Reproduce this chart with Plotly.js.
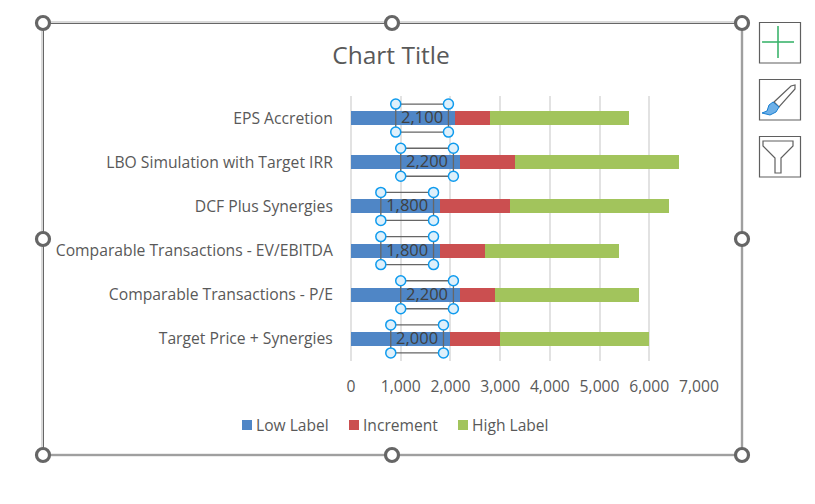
<!DOCTYPE html>
<html><head><meta charset="utf-8">
<script src="https://cdn.plot.ly/plotly-3.0.1.min.js"></script>
<style>html,body{margin:0;padding:0;background:#fff}</style></head>
<body><div id="chart" style="width:815px;height:504px"></div>
<script>
const categories = ["EPS Accretion","LBO Simulation with Target IRR","DCF Plus Synergies","Comparable Transactions - EV/EBITDA","Comparable Transactions - P/E","Target Price + Synergies"];
const lowLabel = [2100,2200,1800,1800,2200,2000];
const increment = [700,1100,1400,900,700,1000];
const highLabel = [2800,3300,3200,2700,2900,3000];
const tickValues = [0,1000,2000,3000,4000,5000,6000,7000];
const seriesNames = ["Low Label","Increment","High Label"];
const seriesColors = ["#4f86c6","#cb4f50","#a2c45c"];

const W=815,H=504,L=351,R=699,T=96,B=361;
const FONT='"Open Sans", sans-serif';
const positions = categories.map((_,i)=>i);
const fmt = v=>v.toLocaleString('en-US');

// selected data-label frames (offsets from the end of the low bar, in axis units)
const gapEnd=140, boxW=1060, boxH=0.317;
const fx=[],fy=[],hx=[],hy=[],lx=[];
lowLabel.forEach((v,i)=>{
  const r=v-gapEnd,l=r-boxW,t=i-boxH,b=i+boxH;
  fx.push(l,r,r,l,l,null); fy.push(t,t,b,b,t,null);
  hx.push(l,r,l,r); hy.push(t,t,b,b);
  lx.push((l+r)/2);
});

const bar=(name,x,color)=>({type:'bar',orientation:'h',name,x,y:positions,marker:{color,line:{width:0}},hoverinfo:'skip',showlegend:false});
const traces=[
  bar(seriesNames[0],lowLabel,seriesColors[0]),
  bar(seriesNames[1],increment,seriesColors[1]),
  bar(seriesNames[2],highLabel,seriesColors[2]),
  {type:'scatter',mode:'lines',x:fx,y:fy,line:{color:'#666666',width:1.3},showlegend:false,hoverinfo:'skip',connectgaps:false},
  {type:'scatter',mode:'markers',x:hx,y:hy,marker:{size:10,color:'#def0fb',line:{color:'#0f9bee',width:1.5}},showlegend:false,hoverinfo:'skip'},
  {type:'scatter',mode:'text',x:lx,y:positions.map(p=>p+0.02),text:lowLabel.map(fmt),textposition:'middle center',textfont:{family:FONT,size:16.5,color:'#404040'},showlegend:false,hoverinfo:'skip'}
];

const px=x=>(x-L)/(R-L), py=y=>(B-y)/(B-T);
const base={xref:'paper',yref:'paper'};
const rect=(x0,y0,x1,y1,line,fill)=>({...base,type:'rect',x0:px(x0),x1:px(x1),y0:py(y0),y1:py(y1),line,fillcolor:fill||'rgba(0,0,0,0)'});
const poly=(pts,line,fill,close=true)=>({...base,type:'path',path:'M'+pts.map(p=>px(p[0])+','+py(p[1])).join(' L')+(close?' Z':''),line,fillcolor:fill||'rgba(0,0,0,0)'});
const circle=(cx,cy,r)=>({...base,type:'circle',x0:px(cx-r),x1:px(cx+r),y0:py(cy+r),y1:py(cy-r),line:{color:'#666666',width:3.2},fillcolor:'#ffffff'});
const BTN={color:'#5f5f5f',width:1.2};
const legendX=[242,349,458];
const shapes=[
  rect(42.5,22.5,742,455,{color:'#d9d9d9',width:3}),
  rect(43.5,23.5,742,455,{color:'#666666',width:1}),
  ...[[43,23],[392,23],[742,23],[43,239],[742,239],[43,455],[392,455],[742,455]].map(c=>circle(c[0],c[1],6.5)),
  rect(759.5,22.5,800.5,63,BTN,'#ffffff'),
  rect(759.5,79.5,800.5,120,BTN,'#ffffff'),
  rect(759.5,136.5,800.5,177,BTN,'#ffffff'),
  poly([[762,42],[794,42]],{color:'#3cb46c',width:1.6},null,false),
  poly([[778,26],[778,58]],{color:'#3cb46c',width:1.6},null,false),
  poly([[774,102],[791,86],[795,85],[795,89],[779,107]],{color:'#5f5f5f',width:1.2},'#ffffff'),
  poly([[762,113],[767,111],[769,105],[773,102],[779,107],[776,112],[770,115]],{color:'#1a7fd0',width:1},'#6db0e8'),
  poly([[763,141],[793,141],[793,146],[781,158],[781,173],[775,173],[775,158],[763,146]],{color:'#5f5f5f',width:1.2},'#ffffff'),
  ...legendX.map((x,i)=>rect(x,420,x+10,430,{width:0},seriesColors[i]))
];
const annotations=seriesNames.map((t,i)=>({xref:'paper',yref:'paper',x:px(legendX[i]+12),y:py(424.5),xanchor:'left',yanchor:'middle',showarrow:false,text:t,font:{family:FONT,size:15.6,color:'#595959'}}));

const layout={
  width:W,height:H,autosize:false,showlegend:false,
  margin:{l:L,r:W-R,t:T,b:H-B,pad:0},
  paper_bgcolor:'#ffffff',plot_bgcolor:'#ffffff',
  font:{family:FONT,size:15.7,color:'#595959'},
  title:{text:'Chart Title',font:{family:FONT,size:24.5,color:'#595959'},xref:'container',yref:'container',x:391/W,xanchor:'center',y:1-55/H,yanchor:'middle'},
  barmode:'stack',bargap:0.68,
  xaxis:{range:[0,7000],tickvals:tickValues,ticktext:tickValues.map(fmt),showgrid:true,gridcolor:'#e2e2e2',gridwidth:2,zeroline:true,zerolinecolor:'#e2e2e2',zerolinewidth:2,showline:false,ticks:'outside',ticklen:11,tickcolor:'rgba(0,0,0,0)',fixedrange:true},
  yaxis:{range:[5.5,-0.5],tickvals:positions,ticktext:categories,showgrid:false,zeroline:false,showline:false,ticks:'outside',ticklen:14,tickcolor:'rgba(0,0,0,0)',fixedrange:true},
  shapes,annotations
};
Plotly.newPlot('chart',traces,layout,{displayModeBar:false,staticPlot:true});
</script></body></html>
